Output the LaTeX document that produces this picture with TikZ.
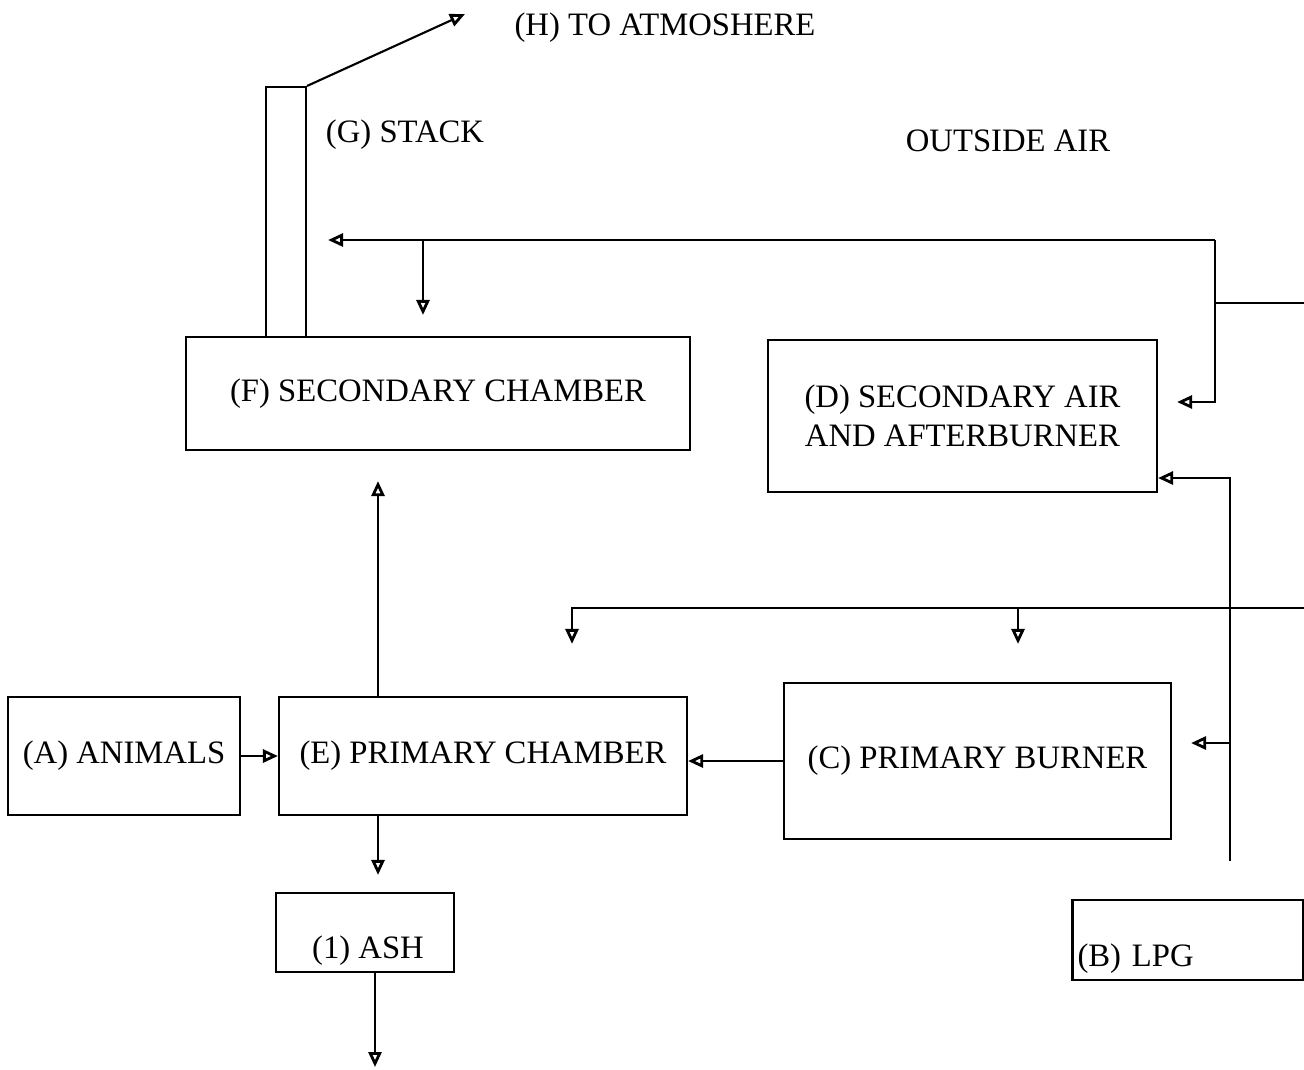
\documentclass[tikz,border=0pt]{standalone}
\usepackage{fontspec}
\setmainfont{Liberation Serif}
\usetikzlibrary{arrows.meta}

\begin{document}
\begin{tikzpicture}[x=0.1mm,y=-0.1mm,line width=0.6pt,
    font=\fontsize{9.3}{11.2}\selectfont,
    block/.style={draw,rectangle,inner sep=0.5mm},
    txtnode/.style={inner sep=0pt},
    flow/.style={-{Triangle[open,length=1.5mm,width=1.3mm,line width=0.8pt]}} ]
    \useasboundingbox (0,0) rectangle (1304,1069);
    % boxes
    \node at (286,212) [block,minimum width=4mm,minimum height=25mm] (stack) {};
    \node at (438,393.5) [block,minimum width=50.4mm,minimum height=11.3mm] (F) {(F) SECONDARY CHAMBER};
    \node at (962.5,416) [block,minimum width=38.9mm,minimum height=15.2mm,align=center] (D) {(D) SECONDARY AIR\\AND AFTERBURNER};
    \node at (124,756) [block,minimum width=23.2mm,minimum height=11.8mm] (A) {(A) ANIMALS};
    \node at (483,756) [block,minimum width=40.8mm,minimum height=11.8mm] (E) {(E) PRIMARY CHAMBER};
    \node at (977.5,761) [block,minimum width=38.7mm,minimum height=15.6mm] (C) {(C) PRIMARY BURNER};
    \node at (365,932.5) [block,minimum width=17.8mm,minimum height=7.9mm,text height=5.2mm,text depth=0pt] (ash) {\hspace{0.6mm}(1) ASH};
    \node at (1188,940) [block,minimum height=8mm,text width=22.1mm,align=left,text height=5.2mm,text depth=0pt] (B) {(B) LPG};
    % free texts
    \node at (665,28) [txtnode] (H) {(H) TO ATMOSHERE};
    \node at (405,135) [txtnode] (G) {(G) STACK};
    \node at (1008,141) [txtnode] (air) {OUTSIDE AIR};
    \coordinate (out) at (465,14);
    \coordinate (air1) at (1304,303);
    \coordinate (j1) at (1215,240);
    \coordinate (air2) at (1304,608);
    \coordinate (ashout) at (375,1067);
    \coordinate (lpgtop) at ([shift={(4.2mm,3.8mm)}]B.north);
    % stack to atmosphere
    \draw [flow] (stack.north east) to (out);
    % outside air, upper line
    \draw (air1) -- (j1 |- air1);
    \draw [flow,shorten >=2.1mm] (j1) -- (stack.east |- j1);
    \draw [flow,shorten >=2.1mm] ([xshift=-1.5mm]F.north |- j1) -- ([xshift=-1.5mm]F.north);
    \draw [flow,shorten >=1.9mm] (j1) |- ([yshift=1.4mm]D.east);
    % outside air, lower line
    \draw [flow,shorten >=5.2mm] (air2) -| ([xshift=8.9mm]E.north);
    \draw [flow,shorten >=3.8mm] ([xshift=4.05mm]C.north |- air2) -- ([xshift=4.05mm]C.north);
    % lpg
    \draw [flow] (lpgtop) |- ([yshift=-6.2mm]D.east);
    \draw [flow,shorten >=1.9mm] ([yshift=1.8mm]C.east -| lpgtop) -- ([yshift=1.8mm]C.east);
    % chambers
    \draw [flow] (A) -- (E);
    \draw [flow] (C.west) -- (E.east |- C.west);
    \draw [flow,shorten >=3mm] ([xshift=-10.5mm]E.north) -- ([xshift=-10.5mm]E.north |- F.south);
    \draw [flow,shorten >=1.7mm] ([xshift=-10.5mm]E.south) -- ([xshift=-10.5mm]E.south |- ash.north);
    \draw [flow] (ash.south -| ashout) -- (ashout);
\end{tikzpicture}
\end{document}
